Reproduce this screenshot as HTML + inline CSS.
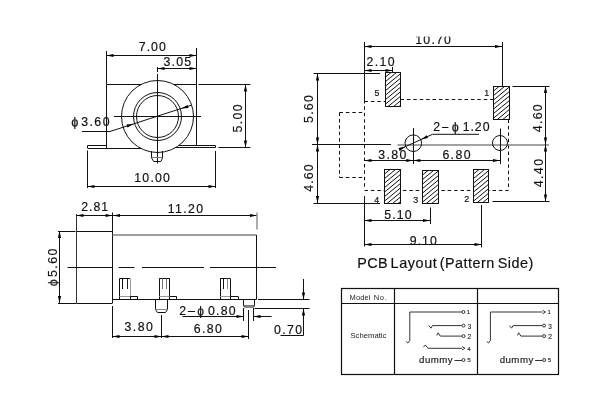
<!DOCTYPE html>
<html><head><meta charset="utf-8"><style>
html,body{margin:0;padding:0;background:#fff;}
svg{display:block;font-family:"Liberation Sans",sans-serif;}
</style></head><body>
<svg width="600" height="400" viewBox="0 0 600 400">
<rect width="600" height="400" fill="#fff"/>
<g style="will-change:transform">
<line x1="106.5" y1="84.5" x2="196.5" y2="84.5" stroke="#111" stroke-width="1.0"/>
<line x1="106.5" y1="84.5" x2="106.5" y2="148" stroke="#111" stroke-width="1.0"/>
<line x1="196.5" y1="84.5" x2="196.5" y2="145.5" stroke="#111" stroke-width="1.0"/>
<line x1="87.5" y1="148.5" x2="157.5" y2="148.5" stroke="#111" stroke-width="1.0"/>
<line x1="157.5" y1="147.5" x2="215.5" y2="147.5" stroke="#111" stroke-width="1.0"/>
<line x1="87.5" y1="145.5" x2="106.5" y2="145.5" stroke="#111" stroke-width="1.0"/>
<line x1="87.5" y1="145.5" x2="87.5" y2="148" stroke="#111" stroke-width="1.0"/>
<line x1="157.5" y1="145.5" x2="215.5" y2="145.5" stroke="#111" stroke-width="1.0"/>
<line x1="215.5" y1="145.5" x2="215.5" y2="147.5" stroke="#111" stroke-width="1.0"/>
<clipPath id="cbody"><rect x="0" y="0" width="600" height="147.5"/></clipPath>
<circle cx="157.5" cy="116.5" r="36" fill="#fff" stroke="#111" stroke-width="1.0"/>
<circle cx="157.5" cy="116.5" r="24" fill="none" stroke="#111" stroke-width="1.0"/>
<circle cx="157.5" cy="116.5" r="21" fill="none" stroke="#111" stroke-width="1.0"/>
<line x1="114" y1="116.5" x2="201" y2="116.5" stroke="#111" stroke-width="1.0"/>
<line x1="157.5" y1="74" x2="157.5" y2="163.5" stroke="#111" stroke-width="1.0"/>
<path d="M151.5,151 V158 L153.8,161.5 H160.8 L162.5,158 V151" fill="none" stroke="#111" stroke-width="1"/>
<line x1="151.5" y1="157.5" x2="162.5" y2="157.5" stroke="#777" stroke-width="1.0"/>
<line x1="106.5" y1="51" x2="106.5" y2="84.5" stroke="#111" stroke-width="1.0"/>
<line x1="196.5" y1="48" x2="196.5" y2="84.5" stroke="#111" stroke-width="1.0"/>
<line x1="106.5" y1="55.5" x2="196.5" y2="55.5" stroke="#111" stroke-width="1.0"/>
<polygon points="106.50,55.50 113.50,53.90 113.50,57.10" fill="#000"/>
<polygon points="196.50,55.50 189.50,57.10 189.50,53.90" fill="#000"/>
<text transform="translate(138.87,50.83)" font-size="12.30" letter-spacing="0.99" fill="#111" stroke="#111" stroke-width="0.18">7.00</text>
<line x1="157.5" y1="68.5" x2="196.5" y2="68.5" stroke="#111" stroke-width="1.0"/>
<line x1="157.5" y1="67" x2="157.5" y2="72" stroke="#111" stroke-width="1.0"/>
<polygon points="157.50,68.50 164.50,66.90 164.50,70.10" fill="#000"/>
<polygon points="196.50,68.50 189.50,70.10 189.50,66.90" fill="#000"/>
<text transform="translate(163.53,66.48)" font-size="12.30" letter-spacing="1.18" fill="#111" stroke="#111" stroke-width="0.18">3.05</text>
<line x1="198.5" y1="84.5" x2="250.5" y2="84.5" stroke="#111" stroke-width="1.0"/>
<line x1="218.5" y1="147.5" x2="250.5" y2="147.5" stroke="#111" stroke-width="1.0"/>
<line x1="245.5" y1="84.5" x2="245.5" y2="147.5" stroke="#111" stroke-width="1.0"/>
<polygon points="245.50,84.50 247.10,91.50 243.90,91.50" fill="#000"/>
<polygon points="245.50,147.50 243.90,140.50 247.10,140.50" fill="#000"/>
<text transform="translate(242.03,132.49) rotate(-90)" font-size="12.30" letter-spacing="1.41" fill="#111" stroke="#111" stroke-width="0.18">5.00</text>
<line x1="87.5" y1="150.5" x2="87.5" y2="188" stroke="#111" stroke-width="1.0"/>
<line x1="215.5" y1="151" x2="215.5" y2="188" stroke="#111" stroke-width="1.0"/>
<line x1="87.5" y1="186.5" x2="215.5" y2="186.5" stroke="#111" stroke-width="1.0"/>
<polygon points="87.50,186.50 94.50,184.90 94.50,188.10" fill="#000"/>
<polygon points="215.50,186.50 208.50,188.10 208.50,184.90" fill="#000"/>
<text transform="translate(134.31,182.36)" font-size="12.30" letter-spacing="1.20" fill="#111" stroke="#111" stroke-width="0.18">10.00</text>
<polyline points="82,131.5 110,131.5 191,105.3" fill="none" stroke="#111" stroke-width="1.0"/>
<polygon points="133.60,123.90 127.43,127.58 126.45,124.54" fill="#000"/>
<polygon points="181.40,108.60 187.57,104.92 188.55,107.96" fill="#000"/>
<text transform="translate(71.16,125.63)" font-size="12.87" letter-spacing="0.00" fill="#111" stroke="#111" stroke-width="0.18">ɸ</text>
<text transform="translate(81.23,126.23)" font-size="12.30" letter-spacing="1.44" fill="#111" stroke="#111" stroke-width="0.18">3.60</text>
<line x1="76.5" y1="231.5" x2="112.5" y2="231.5" stroke="#111" stroke-width="1.0"/>
<line x1="76.5" y1="303.5" x2="112.5" y2="303.5" stroke="#111" stroke-width="1.0"/>
<line x1="76.5" y1="214" x2="76.5" y2="303" stroke="#333" stroke-width="1.0"/>
<line x1="112.5" y1="212.5" x2="112.5" y2="303" stroke="#111" stroke-width="1.0"/>
<line x1="112.5" y1="235" x2="256.5" y2="235" stroke="#808080" stroke-width="1.6"/>
<line x1="112.5" y1="299.5" x2="256.5" y2="299.5" stroke="#111" stroke-width="1.0"/>
<line x1="258" y1="299.5" x2="309.5" y2="299.5" stroke="#111" stroke-width="1.0"/>
<line x1="256.5" y1="235" x2="256.5" y2="299.5" stroke="#111" stroke-width="1.0"/>
<line x1="76.5" y1="215.5" x2="112.5" y2="215.5" stroke="#111" stroke-width="1.0"/>
<polygon points="76.50,215.50 83.50,213.90 83.50,217.10" fill="#000"/>
<polygon points="112.50,215.50 105.50,217.10 105.50,213.90" fill="#000"/>
<text transform="translate(81.18,210.98)" font-size="12.30" letter-spacing="0.99" fill="#111" stroke="#111" stroke-width="0.18">2.81</text>
<line x1="112.5" y1="215.5" x2="257" y2="215.5" stroke="#111" stroke-width="1.0"/>
<polygon points="113.00,215.50 120.00,213.90 120.00,217.10" fill="#000"/>
<polygon points="257.00,215.50 250.00,217.10 250.00,213.90" fill="#000"/>
<line x1="257" y1="212.5" x2="257" y2="229.5" stroke="#909090" stroke-width="1.5"/>
<text transform="translate(167.86,213.13)" font-size="12.30" letter-spacing="1.33" fill="#111" stroke="#111" stroke-width="0.18">11.20</text>
<line x1="58" y1="231.5" x2="75.5" y2="231.5" stroke="#111" stroke-width="1.0"/>
<line x1="58" y1="303.5" x2="76.5" y2="303.5" stroke="#111" stroke-width="1.0"/>
<line x1="59.5" y1="231" x2="59.5" y2="303" stroke="#111" stroke-width="1.0"/>
<polygon points="59.50,231.00 61.10,238.00 57.90,238.00" fill="#000"/>
<polygon points="59.50,303.00 57.90,296.00 61.10,296.00" fill="#000"/>
<text transform="translate(57.28,277.09) rotate(-90)" font-size="12.30" letter-spacing="1.48" fill="#111" stroke="#111" stroke-width="0.18">5.60</text>
<text transform="translate(56.95,286.14) rotate(-90)" font-size="12.77" letter-spacing="0.00" fill="#111" stroke="#111" stroke-width="0.18">ɸ</text>
<line x1="67.5" y1="267.5" x2="112.5" y2="267.5" stroke="#111" stroke-width="1.0"/>
<line x1="118.5" y1="267.5" x2="134.5" y2="267.5" stroke="#111" stroke-width="1.0"/>
<line x1="142" y1="267.5" x2="204" y2="267.5" stroke="#111" stroke-width="1.0"/>
<line x1="210" y1="267.5" x2="276" y2="267.5" stroke="#111" stroke-width="1.0"/>
<line x1="119.5" y1="278.5" x2="130" y2="278.5" stroke="#111" stroke-width="1.0"/>
<line x1="119.5" y1="278.5" x2="119.5" y2="299.5" stroke="#111" stroke-width="1.0"/>
<line x1="130.5" y1="278.5" x2="130.5" y2="296" stroke="#999" stroke-width="1.0"/>
<line x1="130.5" y1="296" x2="130.5" y2="299.5" stroke="#111" stroke-width="1.0"/>
<line x1="122.5" y1="278.5" x2="122.5" y2="289" stroke="#111" stroke-width="1.0"/>
<line x1="127.5" y1="278.5" x2="127.5" y2="289" stroke="#222" stroke-width="1.0"/>
<line x1="119.5" y1="296.5" x2="130" y2="296.5" stroke="#999" stroke-width="1.0"/>
<line x1="130" y1="296.5" x2="137.7" y2="296.5" stroke="#111" stroke-width="1.0"/>
<line x1="137.5" y1="296.5" x2="137.5" y2="299.5" stroke="#111" stroke-width="1.0"/>
<line x1="159.3" y1="278.5" x2="169.7" y2="278.5" stroke="#111" stroke-width="1.0"/>
<line x1="159.5" y1="278.5" x2="159.5" y2="299.5" stroke="#111" stroke-width="1.0"/>
<line x1="169.5" y1="278.5" x2="169.5" y2="296" stroke="#111" stroke-width="1.0"/>
<line x1="169.5" y1="296" x2="169.5" y2="299.5" stroke="#111" stroke-width="1.0"/>
<line x1="162.5" y1="278.5" x2="162.5" y2="289" stroke="#777" stroke-width="1.0"/>
<line x1="166.5" y1="278.5" x2="166.5" y2="289" stroke="#777" stroke-width="1.0"/>
<line x1="159.3" y1="296.5" x2="169.7" y2="296.5" stroke="#999" stroke-width="1.0"/>
<line x1="169.7" y1="296.5" x2="176.7" y2="296.5" stroke="#111" stroke-width="1.0"/>
<line x1="176.5" y1="296.5" x2="176.5" y2="299.5" stroke="#111" stroke-width="1.0"/>
<line x1="220.2" y1="278.5" x2="230.4" y2="278.5" stroke="#111" stroke-width="1.0"/>
<line x1="220.5" y1="278.5" x2="220.5" y2="299.5" stroke="#111" stroke-width="1.0"/>
<line x1="230.5" y1="278.5" x2="230.5" y2="296" stroke="#111" stroke-width="1.0"/>
<line x1="230.5" y1="296" x2="230.5" y2="299.5" stroke="#111" stroke-width="1.0"/>
<line x1="223.5" y1="278.5" x2="223.5" y2="289" stroke="#111" stroke-width="1.0"/>
<line x1="227.5" y1="278.5" x2="227.5" y2="289" stroke="#888" stroke-width="1.0"/>
<line x1="220.2" y1="296.5" x2="230.4" y2="296.5" stroke="#999" stroke-width="1.0"/>
<line x1="230.4" y1="296.5" x2="238.1" y2="296.5" stroke="#111" stroke-width="1.0"/>
<line x1="238.5" y1="296.5" x2="238.5" y2="299.5" stroke="#111" stroke-width="1.0"/>
<path d="M155.5,299.5 V309.5 L157.5,312.5 H165.5 L167.5,309.5 V299.5" fill="none" stroke="#111" stroke-width="1"/>
<line x1="155.5" y1="309.5" x2="167.5" y2="309.5" stroke="#888" stroke-width="1.0"/>
<path d="M243.5,299.5 V305.5 Q243.5,307 245,307 H253 Q254.5,307 254.5,305.5 V299.5" fill="none" stroke="#111" stroke-width="1"/>
<line x1="243.5" y1="305.5" x2="254.5" y2="305.5" stroke="#555" stroke-width="0.8"/>
<line x1="112.5" y1="306" x2="112.5" y2="338" stroke="#111" stroke-width="1.0"/>
<line x1="161.5" y1="315" x2="161.5" y2="338" stroke="#111" stroke-width="1.0"/>
<line x1="248.5" y1="310" x2="248.5" y2="339" stroke="#111" stroke-width="1.0"/>
<line x1="112.5" y1="336.5" x2="248.5" y2="336.5" stroke="#111" stroke-width="1.0"/>
<polygon points="112.50,336.50 119.50,334.90 119.50,338.10" fill="#000"/>
<polygon points="161.50,336.50 154.50,338.10 154.50,334.90" fill="#000"/>
<polygon points="161.50,336.50 168.50,334.90 168.50,338.10" fill="#000"/>
<polygon points="248.50,336.50 241.50,338.10 241.50,334.90" fill="#000"/>
<text transform="translate(124.53,331.03)" font-size="12.30" letter-spacing="1.47" fill="#111" stroke="#111" stroke-width="0.18">3.80</text>
<text transform="translate(193.78,333.43)" font-size="12.30" letter-spacing="1.39" fill="#111" stroke="#111" stroke-width="0.18">6.80</text>
<line x1="243.5" y1="308" x2="243.5" y2="321" stroke="#111" stroke-width="1.0"/>
<line x1="253.5" y1="308" x2="253.5" y2="321" stroke="#111" stroke-width="1.0"/>
<line x1="182.5" y1="316.5" x2="243.5" y2="316.5" stroke="#111" stroke-width="1.0"/>
<line x1="253.5" y1="316.5" x2="271.5" y2="316.5" stroke="#111" stroke-width="1.0"/>
<polygon points="243.50,316.50 236.50,318.10 236.50,314.90" fill="#000"/>
<polygon points="253.50,316.50 260.50,314.90 260.50,318.10" fill="#000"/>
<text transform="translate(179.28,314.74)" font-size="12.30" letter-spacing="0.00" fill="#111" stroke="#111" stroke-width="0.18">2</text>
<line x1="187.8" y1="311.5" x2="195" y2="311.5" stroke="#111" stroke-width="1.0"/>
<text transform="translate(197.24,314.78)" font-size="12.12" letter-spacing="0.00" fill="#111" stroke="#111" stroke-width="0.18">ɸ</text>
<text transform="translate(207.92,314.68)" font-size="12.30" letter-spacing="1.24" fill="#111" stroke="#111" stroke-width="0.18">0.80</text>
<line x1="254.5" y1="308.5" x2="309.5" y2="308.5" stroke="#111" stroke-width="1.0"/>
<line x1="303.5" y1="279" x2="303.5" y2="299.5" stroke="#111" stroke-width="1.0"/>
<polygon points="303.50,299.50 301.90,292.50 305.10,292.50" fill="#000"/>
<line x1="303.5" y1="308.5" x2="303.5" y2="335.5" stroke="#111" stroke-width="1.0"/>
<polygon points="303.50,308.50 305.10,315.50 301.90,315.50" fill="#000"/>
<line x1="280.5" y1="335.5" x2="303.5" y2="335.5" stroke="#111" stroke-width="1.0"/>
<text transform="translate(273.92,333.83)" font-size="12.30" letter-spacing="1.44" fill="#111" stroke="#111" stroke-width="0.18">0.70</text>
<line x1="364.5" y1="42" x2="364.5" y2="100" stroke="#111" stroke-width="1.0"/>
<line x1="502.5" y1="42" x2="502.5" y2="86" stroke="#111" stroke-width="1.0"/>
<line x1="364.5" y1="46.5" x2="502" y2="46.5" stroke="#111" stroke-width="1.0"/>
<polygon points="364.50,46.50 371.50,44.90 371.50,48.10" fill="#000"/>
<polygon points="502.00,46.50 495.00,48.10 495.00,44.90" fill="#000"/>
<text transform="translate(415.31,43.68)" font-size="12.30" letter-spacing="1.20" fill="#111" stroke="#111" stroke-width="0.18">10.70</text>
<rect x="405" y="30" width="60" height="6.6" fill="#fff"/>
<line x1="364.5" y1="70.5" x2="392.5" y2="70.5" stroke="#111" stroke-width="1.0"/>
<line x1="392.5" y1="67" x2="392.5" y2="72.5" stroke="#111" stroke-width="1.0"/>
<polygon points="364.50,70.50 371.50,68.90 371.50,72.10" fill="#000"/>
<polygon points="392.50,70.50 385.50,72.10 385.50,68.90" fill="#000"/>
<text transform="translate(366.48,65.98)" font-size="12.30" letter-spacing="1.42" fill="#111" stroke="#111" stroke-width="0.18">2.10</text>
<line x1="364.5" y1="100" x2="364.5" y2="189.5" stroke="#111" stroke-width="1.0" stroke-dasharray="3.5,2.9"/>
<line x1="364.5" y1="101.5" x2="385" y2="101.5" stroke="#111" stroke-width="1.0" stroke-dasharray="3.5,2.9"/>
<line x1="400.5" y1="99.5" x2="493.5" y2="99.5" stroke="#111" stroke-width="1.0" stroke-dasharray="3.5,2.9"/>
<line x1="339.5" y1="112.5" x2="364.5" y2="112.5" stroke="#111" stroke-width="1.0" stroke-dasharray="3.5,2.9"/>
<line x1="339.5" y1="112.5" x2="339.5" y2="177.5" stroke="#111" stroke-width="1.0" stroke-dasharray="3.5,2.9"/>
<line x1="339.5" y1="177.5" x2="364.5" y2="177.5" stroke="#111" stroke-width="1.0" stroke-dasharray="3.5,2.9"/>
<line x1="364.5" y1="190.5" x2="508.5" y2="190.5" stroke="#111" stroke-width="1.0" stroke-dasharray="3.5,2.9"/>
<line x1="508.5" y1="119.5" x2="508.5" y2="190" stroke="#111" stroke-width="1.0" stroke-dasharray="3.5,2.9"/>
<clipPath id="c151"><rect x="385.5" y="72.5" width="15.0" height="34.0"/></clipPath>
<rect x="385.5" y="72.5" width="15.0" height="34.0" fill="#fff"/>
<g clip-path="url(#c151)">
<line x1="344.04" y1="106.5" x2="385.5" y2="72.5" stroke="#111" stroke-width="1.0"/>
<line x1="349.54" y1="106.5" x2="391.0" y2="72.5" stroke="#111" stroke-width="1.0"/>
<line x1="355.04" y1="106.5" x2="396.5" y2="72.5" stroke="#111" stroke-width="1.0"/>
<line x1="360.54" y1="106.5" x2="402.0" y2="72.5" stroke="#111" stroke-width="1.0"/>
<line x1="366.04" y1="106.5" x2="407.5" y2="72.5" stroke="#111" stroke-width="1.0"/>
<line x1="371.54" y1="106.5" x2="413.0" y2="72.5" stroke="#111" stroke-width="1.0"/>
<line x1="377.04" y1="106.5" x2="418.5" y2="72.5" stroke="#111" stroke-width="1.0"/>
<line x1="382.54" y1="106.5" x2="424.0" y2="72.5" stroke="#111" stroke-width="1.0"/>
<line x1="388.04" y1="106.5" x2="429.5" y2="72.5" stroke="#111" stroke-width="1.0"/>
<line x1="393.54" y1="106.5" x2="435.0" y2="72.5" stroke="#111" stroke-width="1.0"/>
<line x1="399.04" y1="106.5" x2="440.5" y2="72.5" stroke="#111" stroke-width="1.0"/>
<line x1="404.54" y1="106.5" x2="446.0" y2="72.5" stroke="#111" stroke-width="1.0"/>
</g>
<rect x="385.5" y="72.5" width="15.0" height="34.0" fill="none" stroke="#111" stroke-width="1.0"/>
<clipPath id="c168"><rect x="493.5" y="86.5" width="16.0" height="33.0"/></clipPath>
<rect x="493.5" y="86.5" width="16.0" height="33.0" fill="#fff"/>
<g clip-path="url(#c168)">
<line x1="453.26" y1="119.5" x2="493.5" y2="86.5" stroke="#111" stroke-width="1.0"/>
<line x1="458.76" y1="119.5" x2="499.0" y2="86.5" stroke="#111" stroke-width="1.0"/>
<line x1="464.26" y1="119.5" x2="504.5" y2="86.5" stroke="#111" stroke-width="1.0"/>
<line x1="469.76" y1="119.5" x2="510.0" y2="86.5" stroke="#111" stroke-width="1.0"/>
<line x1="475.26" y1="119.5" x2="515.5" y2="86.5" stroke="#111" stroke-width="1.0"/>
<line x1="480.76" y1="119.5" x2="521.0" y2="86.5" stroke="#111" stroke-width="1.0"/>
<line x1="486.26" y1="119.5" x2="526.5" y2="86.5" stroke="#111" stroke-width="1.0"/>
<line x1="491.76" y1="119.5" x2="532.0" y2="86.5" stroke="#111" stroke-width="1.0"/>
<line x1="497.26" y1="119.5" x2="537.5" y2="86.5" stroke="#111" stroke-width="1.0"/>
<line x1="502.76" y1="119.5" x2="543.0" y2="86.5" stroke="#111" stroke-width="1.0"/>
<line x1="508.26" y1="119.5" x2="548.5" y2="86.5" stroke="#111" stroke-width="1.0"/>
<line x1="513.76" y1="119.5" x2="554.0" y2="86.5" stroke="#111" stroke-width="1.0"/>
</g>
<rect x="493.5" y="86.5" width="16.0" height="33.0" fill="none" stroke="#111" stroke-width="1.0"/>
<clipPath id="c185"><rect x="384.5" y="169.5" width="16.0" height="34.0"/></clipPath>
<rect x="384.5" y="169.5" width="16.0" height="34.0" fill="#fff"/>
<g clip-path="url(#c185)">
<line x1="343.04" y1="203.5" x2="384.5" y2="169.5" stroke="#111" stroke-width="1.0"/>
<line x1="348.54" y1="203.5" x2="390.0" y2="169.5" stroke="#111" stroke-width="1.0"/>
<line x1="354.04" y1="203.5" x2="395.5" y2="169.5" stroke="#111" stroke-width="1.0"/>
<line x1="359.54" y1="203.5" x2="401.0" y2="169.5" stroke="#111" stroke-width="1.0"/>
<line x1="365.04" y1="203.5" x2="406.5" y2="169.5" stroke="#111" stroke-width="1.0"/>
<line x1="370.54" y1="203.5" x2="412.0" y2="169.5" stroke="#111" stroke-width="1.0"/>
<line x1="376.04" y1="203.5" x2="417.5" y2="169.5" stroke="#111" stroke-width="1.0"/>
<line x1="381.54" y1="203.5" x2="423.0" y2="169.5" stroke="#111" stroke-width="1.0"/>
<line x1="387.04" y1="203.5" x2="428.5" y2="169.5" stroke="#111" stroke-width="1.0"/>
<line x1="392.54" y1="203.5" x2="434.0" y2="169.5" stroke="#111" stroke-width="1.0"/>
<line x1="398.04" y1="203.5" x2="439.5" y2="169.5" stroke="#111" stroke-width="1.0"/>
<line x1="403.54" y1="203.5" x2="445.0" y2="169.5" stroke="#111" stroke-width="1.0"/>
</g>
<rect x="384.5" y="169.5" width="16.0" height="34.0" fill="none" stroke="#111" stroke-width="1.0"/>
<clipPath id="c202"><rect x="422.5" y="170.5" width="16.0" height="33.0"/></clipPath>
<rect x="422.5" y="170.5" width="16.0" height="33.0" fill="#fff"/>
<g clip-path="url(#c202)">
<line x1="382.26" y1="203.5" x2="422.5" y2="170.5" stroke="#111" stroke-width="1.0"/>
<line x1="387.76" y1="203.5" x2="428.0" y2="170.5" stroke="#111" stroke-width="1.0"/>
<line x1="393.26" y1="203.5" x2="433.5" y2="170.5" stroke="#111" stroke-width="1.0"/>
<line x1="398.76" y1="203.5" x2="439.0" y2="170.5" stroke="#111" stroke-width="1.0"/>
<line x1="404.26" y1="203.5" x2="444.5" y2="170.5" stroke="#111" stroke-width="1.0"/>
<line x1="409.76" y1="203.5" x2="450.0" y2="170.5" stroke="#111" stroke-width="1.0"/>
<line x1="415.26" y1="203.5" x2="455.5" y2="170.5" stroke="#111" stroke-width="1.0"/>
<line x1="420.76" y1="203.5" x2="461.0" y2="170.5" stroke="#111" stroke-width="1.0"/>
<line x1="426.26" y1="203.5" x2="466.5" y2="170.5" stroke="#111" stroke-width="1.0"/>
<line x1="431.76" y1="203.5" x2="472.0" y2="170.5" stroke="#111" stroke-width="1.0"/>
<line x1="437.26" y1="203.5" x2="477.5" y2="170.5" stroke="#111" stroke-width="1.0"/>
<line x1="442.76" y1="203.5" x2="483.0" y2="170.5" stroke="#111" stroke-width="1.0"/>
</g>
<rect x="422.5" y="170.5" width="16.0" height="33.0" fill="none" stroke="#111" stroke-width="1.0"/>
<clipPath id="c219"><rect x="473.5" y="169.5" width="15.0" height="33.0"/></clipPath>
<rect x="473.5" y="169.5" width="15.0" height="33.0" fill="#fff"/>
<g clip-path="url(#c219)">
<line x1="433.26" y1="202.5" x2="473.5" y2="169.5" stroke="#111" stroke-width="1.0"/>
<line x1="438.76" y1="202.5" x2="479.0" y2="169.5" stroke="#111" stroke-width="1.0"/>
<line x1="444.26" y1="202.5" x2="484.5" y2="169.5" stroke="#111" stroke-width="1.0"/>
<line x1="449.76" y1="202.5" x2="490.0" y2="169.5" stroke="#111" stroke-width="1.0"/>
<line x1="455.26" y1="202.5" x2="495.5" y2="169.5" stroke="#111" stroke-width="1.0"/>
<line x1="460.76" y1="202.5" x2="501.0" y2="169.5" stroke="#111" stroke-width="1.0"/>
<line x1="466.26" y1="202.5" x2="506.5" y2="169.5" stroke="#111" stroke-width="1.0"/>
<line x1="471.76" y1="202.5" x2="512.0" y2="169.5" stroke="#111" stroke-width="1.0"/>
<line x1="477.26" y1="202.5" x2="517.5" y2="169.5" stroke="#111" stroke-width="1.0"/>
<line x1="482.76" y1="202.5" x2="523.0" y2="169.5" stroke="#111" stroke-width="1.0"/>
<line x1="488.26" y1="202.5" x2="528.5" y2="169.5" stroke="#111" stroke-width="1.0"/>
<line x1="493.76" y1="202.5" x2="534.0" y2="169.5" stroke="#111" stroke-width="1.0"/>
</g>
<rect x="473.5" y="169.5" width="15.0" height="33.0" fill="none" stroke="#111" stroke-width="1.0"/>
<text transform="translate(374.54,96.27)" font-size="8.90" letter-spacing="0.00" fill="#111" stroke="#111" stroke-width="0.18">5</text>
<text transform="translate(484.32,96.31)" font-size="8.90" letter-spacing="0.00" fill="#111" stroke="#111" stroke-width="0.18">1</text>
<text transform="translate(374.30,202.96)" font-size="8.90" letter-spacing="0.00" fill="#111" stroke="#111" stroke-width="0.18">4</text>
<text transform="translate(413.16,202.51)" font-size="8.90" letter-spacing="0.00" fill="#111" stroke="#111" stroke-width="0.18">3</text>
<text transform="translate(464.35,202.26)" font-size="8.90" letter-spacing="0.00" fill="#111" stroke="#111" stroke-width="0.18">2</text>
<line x1="312" y1="144.5" x2="391" y2="144.5" stroke="#111" stroke-width="1.0"/>
<line x1="397.5" y1="145" x2="549" y2="145" stroke="#858585" stroke-width="1.5"/>
<circle cx="413.3" cy="143.2" r="8.3" fill="none" stroke="#111" stroke-width="1.0"/>
<circle cx="500" cy="143" r="7.5" fill="none" stroke="#111" stroke-width="1.0"/>
<line x1="413.5" y1="128" x2="413.5" y2="164" stroke="#111" stroke-width="1.0"/>
<line x1="500.5" y1="128.5" x2="500.5" y2="164" stroke="#111" stroke-width="1.0"/>
<polyline points="399.5,149.3 432.5,134.3 479,134.3" fill="none" stroke="#111" stroke-width="1.0"/>
<polygon points="405.50,146.60 399.79,150.96 398.47,148.04" fill="#000"/>
<polygon points="421.00,139.50 426.71,135.14 428.03,138.06" fill="#000"/>
<text transform="translate(433.18,130.84)" font-size="12.30" letter-spacing="0.00" fill="#111" stroke="#111" stroke-width="0.18">2</text>
<line x1="442.1" y1="127.5" x2="448.4" y2="127.5" stroke="#111" stroke-width="1.0"/>
<text transform="translate(451.66,131.05)" font-size="12.77" letter-spacing="0.00" fill="#111" stroke="#111" stroke-width="0.18">ɸ</text>
<text transform="translate(462.66,130.78)" font-size="12.30" letter-spacing="0.96" fill="#111" stroke="#111" stroke-width="0.18">1.20</text>
<line x1="364.5" y1="160.5" x2="500" y2="160.5" stroke="#111" stroke-width="1.0"/>
<polygon points="364.50,160.50 371.50,158.90 371.50,162.10" fill="#000"/>
<polygon points="413.30,160.50 406.30,162.10 406.30,158.90" fill="#000"/>
<polygon points="413.30,160.50 420.30,158.90 420.30,162.10" fill="#000"/>
<polygon points="500.00,160.50 493.00,162.10 493.00,158.90" fill="#000"/>
<text transform="translate(378.23,158.58)" font-size="12.30" letter-spacing="1.37" fill="#111" stroke="#111" stroke-width="0.18">3.80</text>
<text transform="translate(442.38,158.58)" font-size="12.30" letter-spacing="1.39" fill="#111" stroke="#111" stroke-width="0.18">6.80</text>
<line x1="313.5" y1="73.5" x2="380" y2="73.5" stroke="#111" stroke-width="1.0"/>
<line x1="313.5" y1="203.5" x2="380" y2="203.5" stroke="#111" stroke-width="1.0"/>
<line x1="317.5" y1="73.5" x2="317.5" y2="203" stroke="#111" stroke-width="1.0"/>
<polygon points="317.50,73.50 319.10,80.50 315.90,80.50" fill="#000"/>
<polygon points="317.50,144.50 315.90,137.50 319.10,137.50" fill="#000"/>
<polygon points="317.50,144.50 319.10,151.50 315.90,151.50" fill="#000"/>
<polygon points="317.50,203.00 315.90,196.00 319.10,196.00" fill="#000"/>
<text transform="translate(312.78,122.89) rotate(-90)" font-size="12.30" letter-spacing="1.24" fill="#111" stroke="#111" stroke-width="0.18">5.60</text>
<text transform="translate(313.08,191.78) rotate(-90)" font-size="12.30" letter-spacing="1.17" fill="#111" stroke="#111" stroke-width="0.18">4.60</text>
<line x1="512.5" y1="86.5" x2="549.5" y2="86.5" stroke="#111" stroke-width="1.0"/>
<line x1="492.5" y1="201.5" x2="549.5" y2="201.5" stroke="#111" stroke-width="1.0"/>
<line x1="545.5" y1="86" x2="545.5" y2="201.5" stroke="#111" stroke-width="1.0"/>
<polygon points="545.50,86.00 547.10,93.00 543.90,93.00" fill="#000"/>
<polygon points="545.50,144.50 543.90,137.50 547.10,137.50" fill="#000"/>
<polygon points="545.50,144.50 547.10,151.50 543.90,151.50" fill="#000"/>
<polygon points="545.50,201.50 543.90,194.50 547.10,194.50" fill="#000"/>
<text transform="translate(542.38,132.18) rotate(-90)" font-size="12.30" letter-spacing="1.31" fill="#111" stroke="#111" stroke-width="0.18">4.60</text>
<text transform="translate(542.78,187.28) rotate(-90)" font-size="12.30" letter-spacing="1.44" fill="#111" stroke="#111" stroke-width="0.18">4.40</text>
<line x1="364.5" y1="196" x2="364.5" y2="246.5" stroke="#111" stroke-width="1.0"/>
<line x1="430.5" y1="207.5" x2="430.5" y2="224" stroke="#111" stroke-width="1.0"/>
<line x1="481.5" y1="205" x2="481.5" y2="247.5" stroke="#111" stroke-width="1.0"/>
<line x1="364.5" y1="220.5" x2="430" y2="220.5" stroke="#111" stroke-width="1.0"/>
<polygon points="364.50,220.50 371.50,218.90 371.50,222.10" fill="#000"/>
<polygon points="430.00,220.50 423.00,222.10 423.00,218.90" fill="#000"/>
<line x1="364.5" y1="244.5" x2="481.5" y2="244.5" stroke="#111" stroke-width="1.0"/>
<polygon points="364.50,244.50 371.50,242.90 371.50,246.10" fill="#000"/>
<polygon points="481.50,244.50 474.50,246.10 474.50,242.90" fill="#000"/>
<text transform="translate(384.21,218.58)" font-size="12.30" letter-spacing="1.11" fill="#111" stroke="#111" stroke-width="0.18">5.10</text>
<text transform="translate(409.82,244.98)" font-size="12.30" letter-spacing="1.01" fill="#111" stroke="#111" stroke-width="0.18">9.10</text>
<text transform="translate(357.22,268.40)" font-size="14.40" letter-spacing="0.37" fill="#111" stroke="#111" stroke-width="0.18">PCB</text>
<text transform="translate(390.52,268.40)" font-size="14.40" letter-spacing="0.61" fill="#111" stroke="#111" stroke-width="0.18">Layout</text>
<text transform="translate(439.81,268.40)" font-size="14.40" letter-spacing="0.46" fill="#111" stroke="#111" stroke-width="0.18">(Pattern</text>
<text transform="translate(497.65,268.40)" font-size="14.40" letter-spacing="0.53" fill="#111" stroke="#111" stroke-width="0.18">Side)</text>
<rect x="341.5" y="288.5" width="217" height="86" fill="none" stroke="#111" stroke-width="1.2"/>
<line x1="341.5" y1="303.5" x2="558.5" y2="303.5" stroke="#111" stroke-width="1.2"/>
<line x1="394.5" y1="288.5" x2="394.5" y2="374.5" stroke="#111" stroke-width="1.2"/>
<line x1="477.5" y1="288.5" x2="477.5" y2="374.5" stroke="#111" stroke-width="1.2"/>
<text transform="translate(349.58,299.98)" font-size="7.50" letter-spacing="0.07" fill="#222" stroke="#222" stroke-width="0">Model</text>
<text transform="translate(373.78,299.84)" font-size="7.50" letter-spacing="0.54" fill="#222" stroke="#222" stroke-width="0">No</text>
<text transform="translate(384.82,299.80)" font-size="7.50" letter-spacing="0.00" fill="#222" stroke="#222" stroke-width="0">.</text>
<text transform="translate(350.45,337.60)" font-size="7.70" letter-spacing="0.01" fill="#222" stroke="#222" stroke-width="0">Schematic</text>
<polyline points="406.2,341.5 407.9,343 409.8,340.5 409.8,312 461.8,312" fill="none" stroke="#333" stroke-width="1.0"/>
<circle cx="463.5" cy="312" r="1.5" fill="none" stroke="#333" stroke-width="1.0"/>
<text transform="translate(466.85,313.90)" font-size="5.96" letter-spacing="0.00" fill="#333" stroke="#333" stroke-width="0.18">1</text>
<polyline points="428.8,325.6 431,328.2 432.4,325.6 461.8,325.6" fill="none" stroke="#333" stroke-width="1.0"/>
<circle cx="463.5" cy="325.6" r="1.5" fill="none" stroke="#333" stroke-width="1.0"/>
<text transform="translate(467.66,328.54)" font-size="6.36" letter-spacing="0.00" fill="#333" stroke="#333" stroke-width="0.18">3</text>
<polyline points="436.8,335.4 438.1,332.8 440.3,336.1 461.8,336.1" fill="none" stroke="#333" stroke-width="1.0"/>
<circle cx="463.5" cy="336.1" r="1.5" fill="none" stroke="#333" stroke-width="1.0"/>
<text transform="translate(467.56,338.60)" font-size="6.73" letter-spacing="0.00" fill="#333" stroke="#333" stroke-width="0.18">2</text>
<polyline points="423.4,347.2 425.3,345 428.1,348.3 462,348.3" fill="none" stroke="#333" stroke-width="1.0"/>
<polyline points="462,346.6 465,348.3 462,350" fill="none" stroke="#333" stroke-width="1.0"/>
<text transform="translate(467.36,350.60)" font-size="6.25" letter-spacing="0.00" fill="#333" stroke="#333" stroke-width="0.18">4</text>
<text transform="translate(419.09,362.50)" font-size="9.66" letter-spacing="0.47" fill="#222" stroke="#222" stroke-width="0.18">dummy</text>
<line x1="454.5" y1="360.5" x2="461.8" y2="360.5" stroke="#333" stroke-width="1.0"/>
<circle cx="463.5" cy="360" r="1.5" fill="none" stroke="#333" stroke-width="1.0"/>
<text transform="translate(467.25,362.14)" font-size="6.16" letter-spacing="0.00" fill="#333" stroke="#333" stroke-width="0.18">5</text>
<polyline points="486.79999999999995,341.5 488.5,343 490.4,340.5 490.4,312 542.4,312" fill="none" stroke="#333" stroke-width="1.0"/>
<polyline points="542.6,310.3 545.6,312 542.6,313.7" fill="none" stroke="#333" stroke-width="1.0"/>
<text transform="translate(547.45,313.90)" font-size="5.96" letter-spacing="0.00" fill="#333" stroke="#333" stroke-width="0.18">1</text>
<polyline points="509.4,325.6 511.6,328.2 513.0,325.6 542.4,325.6" fill="none" stroke="#333" stroke-width="1.0"/>
<circle cx="544.1" cy="325.6" r="1.5" fill="none" stroke="#333" stroke-width="1.0"/>
<text transform="translate(548.26,328.54)" font-size="6.36" letter-spacing="0.00" fill="#333" stroke="#333" stroke-width="0.18">3</text>
<polyline points="517.4,335.4 518.7,332.8 520.9,336.1 542.4,336.1" fill="none" stroke="#333" stroke-width="1.0"/>
<circle cx="544.1" cy="336.1" r="1.5" fill="none" stroke="#333" stroke-width="1.0"/>
<text transform="translate(548.16,338.60)" font-size="6.73" letter-spacing="0.00" fill="#333" stroke="#333" stroke-width="0.18">2</text>
<text transform="translate(499.69,362.50)" font-size="9.66" letter-spacing="0.47" fill="#222" stroke="#222" stroke-width="0.18">dummy</text>
<line x1="535.1" y1="360.5" x2="542.4" y2="360.5" stroke="#333" stroke-width="1.0"/>
<circle cx="544.1" cy="360" r="1.5" fill="none" stroke="#333" stroke-width="1.0"/>
<text transform="translate(547.85,362.14)" font-size="6.16" letter-spacing="0.00" fill="#333" stroke="#333" stroke-width="0.18">5</text>
</g>
</svg></body></html>
